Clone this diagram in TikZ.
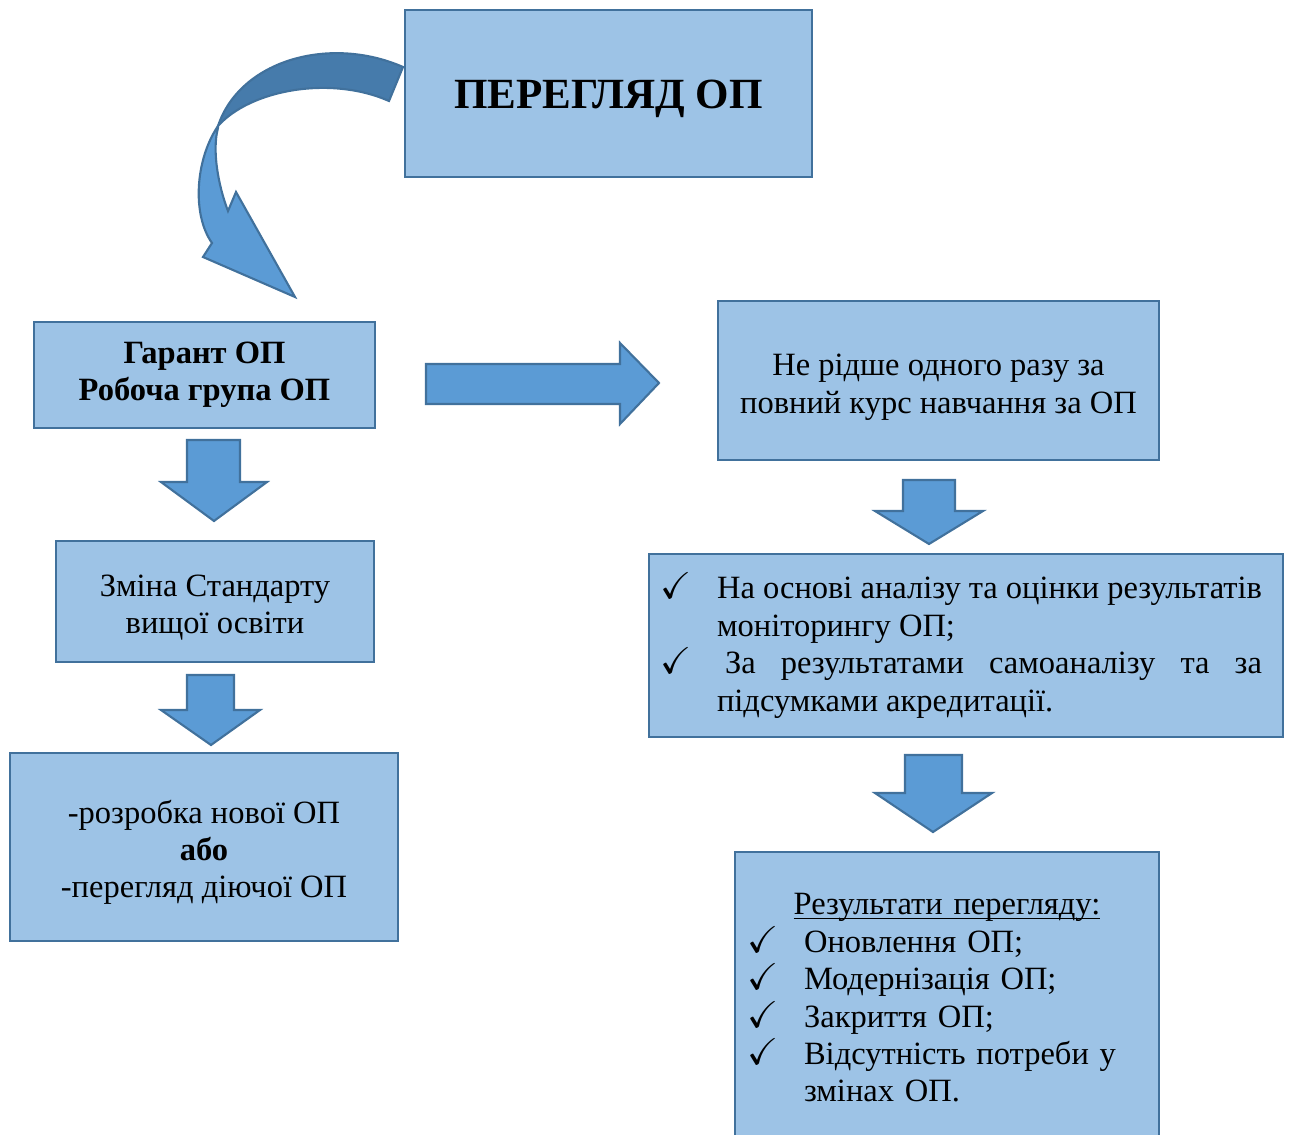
\documentclass[tikz,border=0pt]{standalone}
\usepackage{fontspec}
\setmainfont{Liberation Serif}
\usepackage{amssymb}
\usetikzlibrary{calc}

\definecolor{boxfill}{HTML}{9DC3E6}
\definecolor{boxline}{HTML}{41719C}
\definecolor{arrfill}{HTML}{5B9BD5}
\definecolor{arrdark}{HTML}{467BAB}

\tikzset{
  box/.style={draw=boxline, fill=boxfill, line width=1.2pt, align=center, inner sep=0pt},
  blockarrow/.style={draw=boxline, fill=arrfill, line width=1.2pt, line join=miter},
}
\newcommand{\chk}{\leavevmode\llap{\scalebox{1.15}{$\checkmark$}\hspace{0.5cm}}}
\newcommand{\ulin}[1]{\setbox0\hbox{#1}\rlap{\rule[-2.6pt]{\wd0}{0.8pt}}\box0}
\newcommand{\lowstrut}[1]{\rule{0pt}{#1}}

\begin{document}
\begin{tikzpicture}
    [x=0.02cm, y=-0.02cm, every node/.style={font=\fontsize{18.5}{21.3}\selectfont}]
    \useasboundingbox (0,0) rectangle (1289,1135);

    % curved arrow
    \filldraw[blockarrow, fill=arrdark]
      (403,67) .. controls (330,35) and (240,60) .. (218,126)
      .. controls (250,90) and (330,75) .. (389,101) -- cycle;
    \filldraw[blockarrow]
      (218,126) .. controls (195,160) and (192,215) .. (212,243) -- (203,257) -- (295,297)
      -- (236,192) -- (228,211) .. controls (218,185) and (212,150) .. (218,128) -- cycle;

    \node[box, minimum width=8.14cm, minimum height=3.34cm,
      font=\fontsize{24.5}{28}\selectfont\bfseries] (pereglyad) at (608.5,93.5)
      {\lowstrut{0.78cm}ПЕРЕГЛЯД ОП};

    \node[box, minimum width=6.82cm, minimum height=2.12cm] (garant) at (204.5,375)
      {\textbf{Гарант ОП}\\\textbf{Робоча група ОП}};
    \node[box, minimum width=6.36cm, minimum height=2.42cm] (zmina) at (215,601.5)
      {\lowstrut{0.68cm}Зміна Стандарту\\вищої освіти};
    \node[box, minimum width=7.76cm, minimum height=3.76cm] (rozrobka) at (204,847)
      {\lowstrut{0.68cm}-розробка нової ОП\\\textbf{або}\\-перегляд діючої ОП};

    \node[box, minimum width=8.82cm, minimum height=3.18cm] (ridshe) at (938.5,380.5)
      {\lowstrut{0.7cm}Не рідше одного разу за\\повний курс навчання за ОП};
    \node[box, minimum width=12.68cm, minimum height=3.66cm, text width=11.84cm, align=justify]
      (osnova) at (966,645.5)
      {\leftskip=0.94cm
       \chk На основі аналізу та оцінки результатів\linebreak
       моніторингу ОП;\par
       \chk\hspace{0.16cm}За результатами самоаналізу та за\linebreak
       підсумками акредитації.\par};
    \node[box, minimum width=8.48cm, minimum height=5.84cm, text width=7.6cm, align=left]
      (rezultaty) at (947,998)
      {\makebox[\linewidth]{\ulin{Результати перегляду:}}\par
       \leftskip=0.94cm
       \chk Оновлення ОП;\par
       \chk Модернізація ОП;\par
       \chk Закриття ОП;\par
       \chk Відсутність потреби у\newline змінах ОП.\par};

    % block arrows
    \draw[blockarrow] (187,440) -- (240,440) -- (240,482) -- (267,482) -- (214,521)
      -- (161,482) -- (187,482) -- cycle;
    \draw[blockarrow] (187,675) -- (234,675) -- (234,710) -- (260,710) -- (211,745)
      -- (161,710) -- (187,710) -- cycle;
    \draw[blockarrow] (903,480) -- (955,480) -- (955,511) -- (983,511) -- (929,544)
      -- (875,511) -- (903,511) -- cycle;
    \draw[blockarrow] (905,755) -- (962,755) -- (962,793) -- (992,793) -- (933,832)
      -- (875,793) -- (905,793) -- cycle;
    \draw[blockarrow] (426,364) -- (620,364) -- (620,343) -- (659,383) -- (620,424)
      -- (620,404) -- (426,404) -- cycle;
  \end{tikzpicture}
\end{document}
